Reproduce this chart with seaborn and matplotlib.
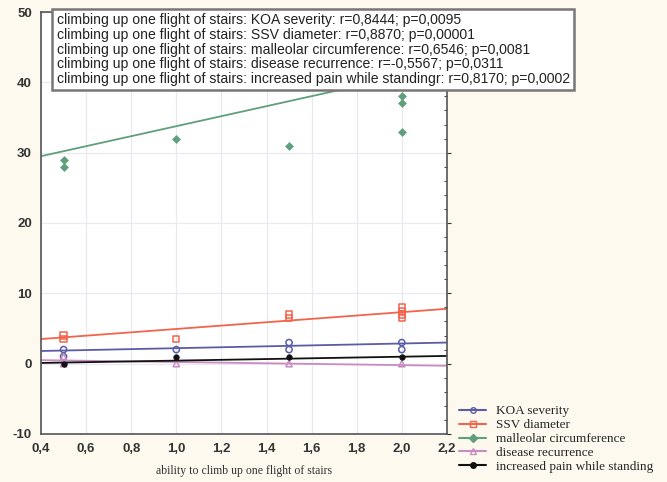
import seaborn as sns
import pandas as pd
import matplotlib.pyplot as plt
from matplotlib.lines import Line2D
from matplotlib.ticker import MultipleLocator, FuncFormatter

# series names and stats shown in the text box
series = ["KOA severity", "SSV diameter", "malleolar circumference",
          "disease recurrence", "increased pain while standing"]
stats = ["KOA severity: r=0,8444; p=0,0095",
         "SSV diameter: r=0,8870; p=0,00001",
         "malleolar circumference: r=0,6546; p=0,0081",
         "disease recurrence: r=-0,5567; p=0,0311",
         "increased pain while standingr: r=0,8170; p=0,0002"]

# observed points (x = ability to climb stairs)
koa_x = [0.5, 0.5, 1.0, 1.5, 1.5, 2.0, 2.0]
koa_y = [1, 2, 2, 2, 3, 2, 3]
ssv_x = [0.5, 0.5, 1.0, 1.5, 1.5, 2.0, 2.0, 2.0, 2.0]
ssv_y = [3.5, 4, 3.5, 6.5, 7, 6.5, 7, 7.5, 8]
mal_x = [0.5, 0.5, 1.0, 1.5, 2.0, 2.0, 2.0]
mal_y = [28, 29, 32, 31, 37, 38, 33]
rec_x = [0.5, 0.5, 1.0, 1.5, 2.0]
rec_y = [0, 1, 0, 0, 0]
pain_x = [0.5, 1.0, 1.5, 2.0]
pain_y = [0, 1, 1, 1]

# fitted lines (value at x=0.4 and x=2.2)
line_x = [0.4, 2.2]
koa_line = [1.8, 3.0]
ssv_line = [3.5, 7.8]
mal_line = [29.5, 42.3]
rec_line = [0.5, -0.3]
pain_line = [0.1, 1.1]

colors = ["#5b5ca8", "#f2644c", "#5f9f7c", "#c98cc2", "#111111"]
markers = ["o", "s", "D", "^", "o"]
fills = ["none", "none", "full", "none", "full"]

sns.set_style("whitegrid")
plt.rcParams["font.family"] = ["Liberation Sans", "DejaVu Sans"]
plt.rcParams["axes.unicode_minus"] = False

fig = plt.figure(figsize=(6.67, 4.82), dpi=100, facecolor="#fdf9ee")
ax = fig.add_axes([0.0615, 0.0996, 0.6085, 0.8755])
ax.set_facecolor("white")

pts = [(koa_x, koa_y), (ssv_x, ssv_y), (mal_x, mal_y), (rec_x, rec_y), (pain_x, pain_y)]
lines = [koa_line, ssv_line, mal_line, rec_line, pain_line]

for (px, py), ly, c, m, f in zip(pts, lines, colors, markers, fills):
    sns.lineplot(x=line_x, y=ly, color=c, lw=1.3, ax=ax)
    if f == "none":
        sns.scatterplot(x=px, y=py, marker=m, s=20, facecolor="none",
                        edgecolor=c, linewidth=1.1, ax=ax)
    else:
        sns.scatterplot(x=px, y=py, marker=m, s=16, color=c,
                        edgecolor=c, linewidth=0.5, ax=ax)

ax.set_xlim(0.4, 2.2)
ax.set_ylim(-10, 50)
ax.xaxis.set_major_locator(MultipleLocator(0.2))
ax.yaxis.set_major_locator(MultipleLocator(10))
ax.yaxis.set_minor_locator(MultipleLocator(2))
ax.xaxis.set_major_formatter(FuncFormatter(lambda v, p: f"{v:.1f}".replace(".", ",")))
ax.grid(True, color="#e8eaf0", lw=0.9)
ax.grid(False, which="minor")
for s in ax.spines.values():
    s.set_color("#555555")
    s.set_linewidth(1.2)
ax.tick_params(axis="both", labelsize=9.5, colors="#333333", length=3, direction="out")
ax.tick_params(axis="y", which="minor", length=2, left=False, right=True, direction="in")
ax.tick_params(axis="y", which="major", right=True)
for lab in ax.get_xticklabels() + ax.get_yticklabels():
    lab.set_fontweight("bold")
ax.set_xlabel("ability to climb up one flight of stairs", family="Liberation Serif",
              fontsize=8.5, color="#333333", labelpad=7)
ax.set_ylabel("")

text = "\n".join("climbing up one flight of stairs: " + s for s in stats)
fig.text(0.085, 0.972, text, ha="left", va="top", fontsize=10.1, color="#222222",
         linespacing=1.06,
         bbox=dict(boxstyle="square,pad=0.3", facecolor="white",
                   edgecolor="#777777", linewidth=1.8))

handles = []
for c, m, f in zip(colors, markers, fills):
    handles.append(Line2D([0], [0], color=c, marker=m, markersize=4,
                          fillstyle=f, lw=1.5))
fig.legend(handles, series, loc="lower left", bbox_to_anchor=(0.675, 0.0),
           frameon=False, prop={"family": "Liberation Serif", "size": 9.5},
           handlelength=2.0, labelspacing=0.12, borderaxespad=0.3)

fig.savefig("out.png", dpi=100, facecolor=fig.get_facecolor())
